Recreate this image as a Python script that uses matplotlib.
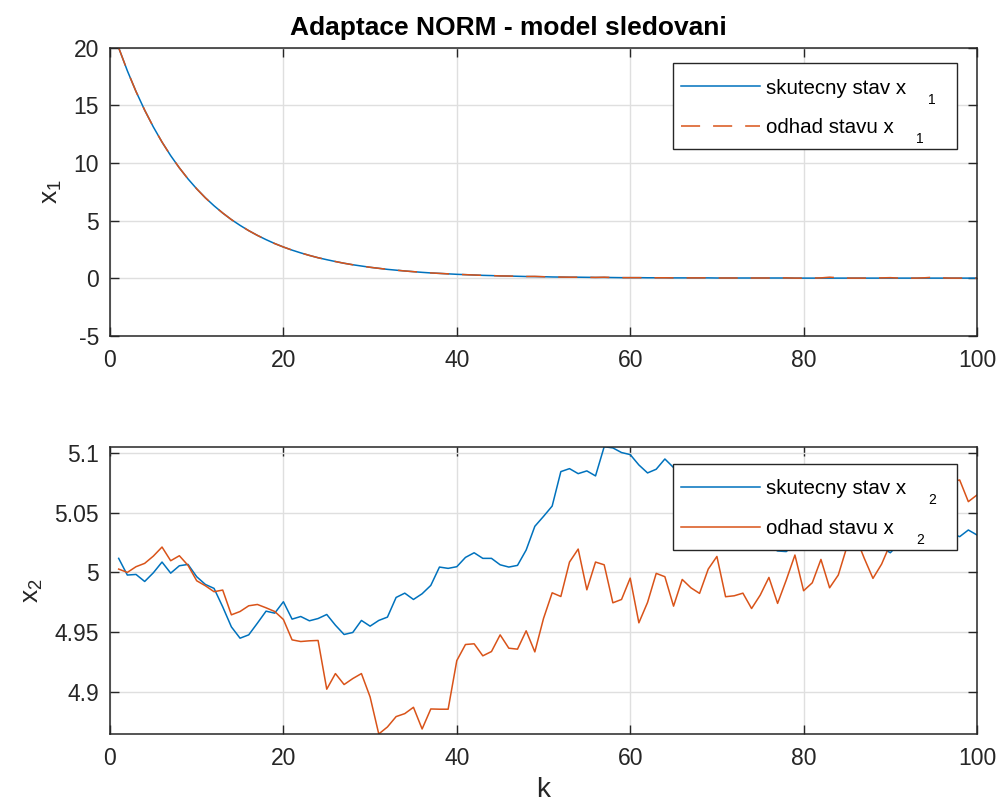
import matplotlib
matplotlib.use('Agg')
import matplotlib.pyplot as plt
from matplotlib.patches import Rectangle
from matplotlib.ticker import FuncFormatter

plt.rcParams['font.family'] = ['Liberation Sans', 'DejaVu Sans']
plt.rcParams['mathtext.fontset'] = 'custom'
plt.rcParams['mathtext.rm'] = 'Liberation Sans'
plt.rcParams['axes.unicode_minus'] = False

# time steps
k = list(range(1, 101))

# x1 - true state and estimate
x1_true = [20.0, 18.0, 16.2, 14.58, 13.12, 11.81, 10.63, 9.57, 8.61, 7.75,
           6.97, 6.28, 5.65, 5.08, 4.58, 4.12, 3.71, 3.34, 3.0, 2.7,
           2.43, 2.19, 1.97, 1.77, 1.6, 1.44, 1.29, 1.16, 1.05, 0.94,
           0.85, 0.76, 0.69, 0.62, 0.56, 0.5, 0.45, 0.41, 0.37, 0.33,
           0.3, 0.27, 0.24, 0.22, 0.19, 0.18, 0.16, 0.14, 0.13, 0.12,
           0.1, 0.09, 0.08, 0.08, 0.07, 0.06, 0.06, 0.05, 0.04, 0.04,
           0.04, 0.03, 0.03, 0.03, 0.02, 0.02, 0.02, 0.02, 0.02, 0.01,
           0.01, 0.01, 0.01, 0.01, 0.01, 0.01, 0.01, 0.01, 0.0, 0.0,
           0.0, 0.0, 0.0, 0.0, 0.0, 0.0, 0.0, 0.0, 0.0, 0.0,
           0.0, 0.0, 0.0, 0.0, 0.0, 0.0, 0.0, 0.0, 0.0, 0.0]
x1_est = [20.0, 18.0, 16.2, 14.58, 13.12, 11.81, 10.63, 9.57, 8.61, 7.75,
          6.97, 6.28, 5.65, 5.08, 4.58, 4.12, 3.71, 3.34, 3.0, 2.7,
          2.43, 2.19, 1.97, 1.77, 1.6, 1.44, 1.29, 1.16, 1.05, 0.94,
          0.85, 0.76, 0.69, 0.62, 0.56, 0.5, 0.45, 0.41, 0.37, 0.33,
          0.3, 0.27, 0.24, 0.22, 0.19, 0.18, 0.16, 0.14, 0.15, 0.12,
          0.1, 0.09, 0.08, 0.08, 0.07, 0.06, 0.08, 0.05, 0.04, 0.04,
          0.04, 0.03, 0.03, 0.03, 0.02, 0.02, 0.02, 0.02, 0.03, 0.01,
          0.01, 0.01, 0.01, 0.01, 0.01, 0.01, 0.01, 0.02, 0.0, 0.0,
          0.0, 0.02, 0.08, 0.03, 0.0, 0.0, 0.0, 0.0, 0.02, 0.04,
          0.0, 0.0, 0.0, 0.03, 0.08, 0.02, 0.0, 0.0, 0.01, 0.0]

# x2 - true state and estimate
x2_true = [5.0118, 4.9978, 4.9983, 4.9924, 4.9997, 5.0087, 4.9994, 5.0056, 5.0067, 4.9964,
           4.9899, 4.9866, 4.9711, 4.9543, 4.9448, 4.9476, 4.9574, 4.9675, 4.9658, 4.9754,
           4.9608, 4.9630, 4.9594, 4.9613, 4.9647, 4.9557, 4.9479, 4.9496, 4.9597, 4.9549,
           4.9597, 4.9625, 4.9790, 4.9826, 4.9773, 4.9821, 4.9891, 5.0045, 5.0034, 5.0048,
           5.0126, 5.0165, 5.0118, 5.0118, 5.0064, 5.0045, 5.0059, 5.0188, 5.0387, 5.0470,
           5.0557, 5.0846, 5.0871, 5.0829, 5.0852, 5.0810, 5.1055, 5.1045, 5.1006, 5.0989,
           5.0902, 5.0835, 5.0866, 5.0952, 5.0880, 5.0800, 5.0720, 5.0650, 5.0580, 5.0500,
           5.0450, 5.0400, 5.0360, 5.0300, 5.0260, 5.0220, 5.0180, 5.0175, 5.0240, 5.0300,
           5.0340, 5.0380, 5.0360, 5.0400, 5.0350, 5.0300, 5.0280, 5.0240, 5.0210, 5.0165,
           5.0240, 5.0280, 5.0320, 5.0300, 5.0340, 5.0310, 5.0330, 5.0300, 5.0356, 5.0314]
x2_est = [5.0028, 5.0000, 5.0048, 5.0076, 5.0137, 5.0213, 5.0098, 5.0140, 5.0059, 4.9930,
          4.9888, 4.9838, 4.9852, 4.9644, 4.9672, 4.9720, 4.9731, 4.9703, 4.9672, 4.9605,
          4.9434, 4.9420, 4.9426, 4.9429, 4.9020, 4.9151, 4.9059, 4.9109, 4.9151, 4.8955,
          4.8644, 4.8703, 4.8790, 4.8815, 4.8868, 4.8686, 4.8854, 4.8852, 4.8852, 4.9260,
          4.9395, 4.9401, 4.9300, 4.9336, 4.9476, 4.9364, 4.9356, 4.9510, 4.9333, 4.9613,
          4.9829, 4.9798, 5.0087, 5.0196, 4.9854, 5.0087, 5.0064, 4.9745, 4.9773, 4.9952,
          4.9577, 4.9748, 4.9992, 4.9964, 4.9717, 4.9941, 4.9871, 4.9824, 5.0028, 5.0134,
          4.9796, 4.9804, 4.9826, 4.9697, 4.9810, 4.9958, 4.9740, 4.9936, 5.0146, 4.9846,
          4.9913, 5.0109, 4.9871, 4.9978, 5.0216, 5.0300, 5.0118, 4.9950, 5.0070, 5.0240,
          5.0330, 5.0420, 5.0380, 5.0500, 5.0460, 5.0620, 5.0760, 5.0776, 5.0594, 5.0650]

labels_x1 = ['skutecny stav x', 'odhad stavu x']
labels_x2 = ['skutecny stav x', 'odhad stavu x']

blue = '#0072BD'
orange = '#D95319'
dark = '#262626'


def style_axes(ax):
    ax.set_xlim(0, 100)
    ax.grid(True, color='#DFDFDF', linewidth=1)
    ax.set_axisbelow(True)
    for s in ax.spines.values():
        s.set_color(dark)
        s.set_linewidth(1.1)
    ax.tick_params(direction='in', length=6.5, width=1, colors=dark,
                   labelsize=16.5, top=True, right=True)
    ax.tick_params(axis='x', pad=9.5)
    ax.tick_params(axis='y', pad=8)


def make_legend(ax, labels, top_px):
    # legend without frame, the MATLAB like box is drawn afterwards
    h = ax.get_window_extent().height
    leg = ax.legend(labels, loc='upper left',
                    bbox_to_anchor=(562.7 / 867, 1 - (top_px + 7) / h),
                    borderaxespad=0, frameon=False,
                    fontsize=14.8, handlelength=3.85, handletextpad=0.3,
                    labelspacing=1.0, borderpad=0.4)
    return leg


def finish_legend(ax, leg, labels, sub):
    r = fig.canvas.get_renderer()
    inv = ax.transAxes.inverted()
    ab = ax.get_window_extent(r)
    lb = leg.get_window_extent(r)
    # white box with dark edge, right edge 20 px inside the axes
    x0, y0 = inv.transform((lb.x0, lb.y0 - 3.5))
    x1, y1 = inv.transform((ab.x1 - 20.5, lb.y1 + 7))
    ax.add_patch(Rectangle((x0, y0), x1 - x0, y1 - y0, transform=ax.transAxes,
                           facecolor='white', edgecolor=dark, linewidth=1.0,
                           zorder=4.9, clip_on=False))
    # lowered subscripts in the MATLAB tex style
    for t in leg.get_texts():
        bb = t.get_window_extent(r)
        w, hh, d = r.get_text_width_height_descent('lp', t.get_fontproperties(), False)
        sx, sy = inv.transform((bb.x1 + 22, bb.y0 + d - 10))
        ax.text(sx, sy, sub, transform=ax.transAxes, fontsize=10, color='black',
                va='baseline', ha='left', zorder=6)


fig = plt.figure(figsize=(10, 8.02), dpi=100)

# upper plot - x1
ax1 = fig.add_axes([0.110, 0.5814, 0.867, 0.3591])
ax1.plot(k, x1_true, color=blue, linewidth=1.1)
ax1.plot(k, x1_est, color=orange, linewidth=1.1, dashes=(12.5, 8.5))
style_axes(ax1)
ax1.set_ylim(-5, 20)
ax1.set_yticks([-5, 0, 5, 10, 15, 20])
ax1.set_ylabel(r'$\mathregular{x_1}$', fontsize=19, color=dark, labelpad=7)
ax1.set_title('Adaptace NORM - model sledovani', fontsize=19, fontweight='bold',
              pad=9.5, x=0.46)
leg1 = make_legend(ax1, labels_x1, 15.6)

# lower plot - x2
ax2 = fig.add_axes([0.110, 0.0848, 0.867, 0.3582])
ax2.plot(k, x2_true, color=blue, linewidth=1.1)
ax2.plot(k, x2_est, color=orange, linewidth=1.1)
style_axes(ax2)
ax2.set_ylim(min(x2_true + x2_est), max(x2_true + x2_est))
ax2.set_yticks([4.9, 4.95, 5.0, 5.05, 5.1])
ax2.yaxis.set_major_formatter(FuncFormatter(lambda v, p: '%g' % v))
ax2.set_ylabel(r'$\mathregular{x_2}$', fontsize=19, color=dark, labelpad=7)
ax2.set_xlabel('k', fontsize=20, color=dark, labelpad=5)
leg2 = make_legend(ax2, labels_x2, 17.3)

fig.canvas.draw()
finish_legend(ax1, leg1, labels_x1, '1')
finish_legend(ax2, leg2, labels_x2, '2')

fig.savefig('out.png', dpi=100)
